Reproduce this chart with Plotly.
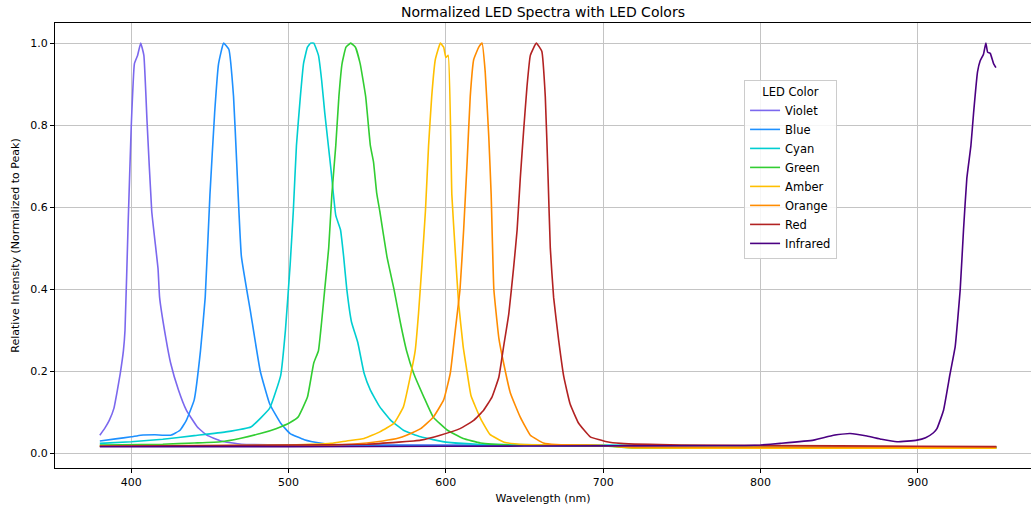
import plotly.graph_objects as go

# ---- data ----
violet_x = [380, 383, 386, 389, 391, 393, 395, 396, 398, 400, 402, 404, 406, 408, 410, 413, 417, 418, 422, 425, 430, 435, 442, 448, 457, 470, 500, 600, 700, 800, 950]
violet_y = [0.044, 0.06, 0.08, 0.11, 0.15, 0.195, 0.25, 0.30, 0.56, 0.80, 0.95, 0.97, 1.0, 0.97, 0.81, 0.59, 0.45, 0.38, 0.28, 0.22, 0.154, 0.105, 0.064, 0.044, 0.03, 0.022, 0.02, 0.02, 0.018, 0.016, 0.015]

blue_x = [380, 390, 400, 406, 415, 425, 431, 435, 440, 444, 447, 450, 453, 455.5, 458.7, 462, 465, 467, 470, 476, 482, 488, 495, 501, 510, 520, 535, 600, 700, 800, 950]
blue_y = [0.03, 0.035, 0.04, 0.044, 0.045, 0.044, 0.056, 0.08, 0.13, 0.25, 0.38, 0.63, 0.83, 0.95, 1.0, 0.985, 0.87, 0.71, 0.48, 0.34, 0.2, 0.12, 0.073, 0.048, 0.033, 0.025, 0.02, 0.019, 0.018, 0.016, 0.015]

cyan_x = [380, 400, 420, 440, 460, 476, 488, 495, 498, 501, 503, 505, 507.5, 509.5, 512, 514, 516, 519, 521, 523, 525, 527, 530, 533, 535, 537, 540, 544, 548, 552, 558, 565, 573, 584, 600, 620, 700, 800, 950]
cyan_y = [0.024, 0.028, 0.034, 0.043, 0.052, 0.064, 0.11, 0.19, 0.30, 0.46, 0.59, 0.75, 0.87, 0.95, 0.99, 1.0, 1.0, 0.97, 0.91, 0.83, 0.76, 0.69, 0.58, 0.545, 0.48, 0.40, 0.32, 0.27, 0.195, 0.154, 0.113, 0.08, 0.056, 0.04, 0.027, 0.022, 0.02, 0.017, 0.015]

green_x = [380, 420, 440, 457, 469, 482, 492, 501, 506, 512, 516, 519, 521, 523, 525.5, 527.5, 530, 532, 534, 536.5, 539.5, 542.5, 545.5, 549, 552, 554, 556, 558, 562.5, 567, 571, 575, 579.5, 586, 592, 601, 611, 622, 640, 700, 720, 800, 950]
green_y = [0.02, 0.022, 0.025, 0.028, 0.036, 0.048, 0.06, 0.075, 0.088, 0.137, 0.22, 0.25, 0.32, 0.40, 0.50, 0.63, 0.75, 0.87, 0.95, 0.99, 1.0, 0.99, 0.95, 0.87, 0.75, 0.71, 0.635, 0.59, 0.48, 0.40, 0.32, 0.25, 0.195, 0.137, 0.088, 0.056, 0.036, 0.025, 0.02, 0.018, 0.013, 0.012, 0.012]

amber_x = [380, 450, 500, 527, 537, 548, 558, 567, 573, 577, 580.5, 582.6, 584.8, 587, 589, 591, 593.3, 596.5, 598.6, 600, 601.5, 603.8, 606, 608, 611, 613, 616, 622, 628, 637, 650, 700, 720, 800, 950]
amber_y = [0.018, 0.019, 0.02, 0.024, 0.03, 0.036, 0.052, 0.073, 0.113, 0.18, 0.25, 0.34, 0.46, 0.59, 0.75, 0.87, 0.96, 1.0, 0.99, 0.965, 0.97, 0.63, 0.49, 0.37, 0.26, 0.21, 0.14, 0.085, 0.046, 0.027, 0.021, 0.019, 0.013, 0.012, 0.012]

orange_x = [380, 500, 540, 560, 570, 575, 584, 592, 598.6, 602.8, 606, 609, 611.3, 613.5, 615.5, 617.7, 620.9, 623, 625, 627.3, 628.8, 630.5, 633.7, 636.7, 641, 647.3, 653.7, 662, 670, 700, 720, 800, 950]
orange_y = [0.017, 0.018, 0.022, 0.03, 0.037, 0.044, 0.06, 0.088, 0.13, 0.195, 0.30, 0.40, 0.545, 0.71, 0.87, 0.96, 0.99, 1.0, 0.93, 0.77, 0.63, 0.40, 0.28, 0.22, 0.147, 0.088, 0.044, 0.025, 0.021, 0.019, 0.015, 0.015, 0.015]

red_x = [380, 500, 550, 570, 579.5, 584, 596.4, 609, 617.7, 624, 629.3, 633.7, 636.7, 640, 643, 645.3, 647.3, 649.5, 651.6, 653.7, 657.5, 661, 663.2, 665, 666.4, 668.5, 671.7, 675, 679, 684.4, 691.8, 702.4, 711, 750, 800, 900, 950]
red_y = [0.017, 0.02, 0.022, 0.027, 0.03, 0.032, 0.044, 0.06, 0.08, 0.105, 0.137, 0.186, 0.26, 0.34, 0.45, 0.545, 0.67, 0.79, 0.895, 0.97, 1.0, 0.98, 0.87, 0.67, 0.50, 0.38, 0.276, 0.186, 0.12, 0.073, 0.04, 0.028, 0.024, 0.02, 0.019, 0.017, 0.016]

infrared_x = [380, 500, 600, 700, 790, 800, 812.6, 833.8, 846.5, 857, 867.7, 877, 886.8, 899.5, 905, 910, 912.2, 916.4, 920.6, 923.8, 927, 929.1, 931.2, 933.8, 935.5, 938, 939.7, 941.8, 943.3, 944.4, 946.1, 948.2, 949.7]
infrared_y = [0.016, 0.016, 0.017, 0.018, 0.019, 0.02, 0.024, 0.032, 0.044, 0.048, 0.042, 0.034, 0.028, 0.032, 0.038, 0.05, 0.06, 0.105, 0.195, 0.26, 0.40, 0.545, 0.67, 0.75, 0.83, 0.93, 0.957, 0.973, 1.0, 0.978, 0.975, 0.95, 0.94]

series_names = ["Violet", "Blue", "Cyan", "Green", "Amber", "Orange", "Red", "Infrared"]
series_colors = ["#7B68EE", "#1E90FF", "#00CED1", "#32CD32", "#FFBF00", "#FF8C00", "#B22222", "#4B0082"]
series_x = [violet_x, blue_x, cyan_x, green_x, amber_x, orange_x, red_x, infrared_x]
series_y = [violet_y, blue_y, cyan_y, green_y, amber_y, orange_y, red_y, infrared_y]

x_ticks = [400, 500, 600, 700, 800, 900]
y_ticks = [0.0, 0.2, 0.4, 0.6, 0.8, 1.0]

fig = go.Figure()
for name, color, xs, ys in zip(series_names, series_colors, series_x, series_y):
    fig.add_trace(go.Scatter(x=xs, y=ys, mode="lines", name=name,
                             line=dict(color=color, width=1.6, shape="spline", smoothing=0.35)))

font = "DejaVu Sans, sans-serif"
fig.update_layout(
    width=1031, height=508,
    margin=dict(l=55, r=0, t=23, b=40),
    paper_bgcolor="white", plot_bgcolor="white",
    font=dict(family=font, size=11, color="black"),
    title=dict(text="Normalized LED Spectra with LED Colors", x=0.5, xref="paper",
               xanchor="center", y=0.976, yanchor="middle", font=dict(size=14)),
    showlegend=True,
    legend=dict(x=0.706, y=0.872, xanchor="left", yanchor="top",
                bgcolor="rgba(255,255,255,0.85)", bordercolor="#cccccc", borderwidth=1,
                font=dict(size=11.5), title=dict(text="LED Color", side="top center", font=dict(size=11.5)),
                tracegroupgap=0, itemwidth=30),
)
fig.update_xaxes(range=[351.5, 972], tickvals=x_ticks, ticktext=[str(v) for v in x_ticks],
                 showgrid=True, gridcolor="#c4c4c4", gridwidth=1,
                 showline=True, linecolor="black", linewidth=1, mirror=True,
                 ticks="outside", ticklen=4, tickcolor="black", zeroline=False,
                 title=dict(text="Wavelength (nm)", standoff=6, font=dict(size=11)))
fig.update_yaxes(range=[-0.036, 1.049], tickvals=y_ticks, ticktext=[f"{v:.1f}" for v in y_ticks],
                 showgrid=True, gridcolor="#c4c4c4", gridwidth=1,
                 showline=True, linecolor="black", linewidth=1, mirror=False,
                 ticks="outside", ticklen=4, tickcolor="black", zeroline=False,
                 title=dict(text="Relative Intensity (Normalized to Peak)", standoff=8, font=dict(size=11)))

fig.write_html("out.html", config={"displayModeBar": False},
               post_script="document.body.style.margin='0';")
